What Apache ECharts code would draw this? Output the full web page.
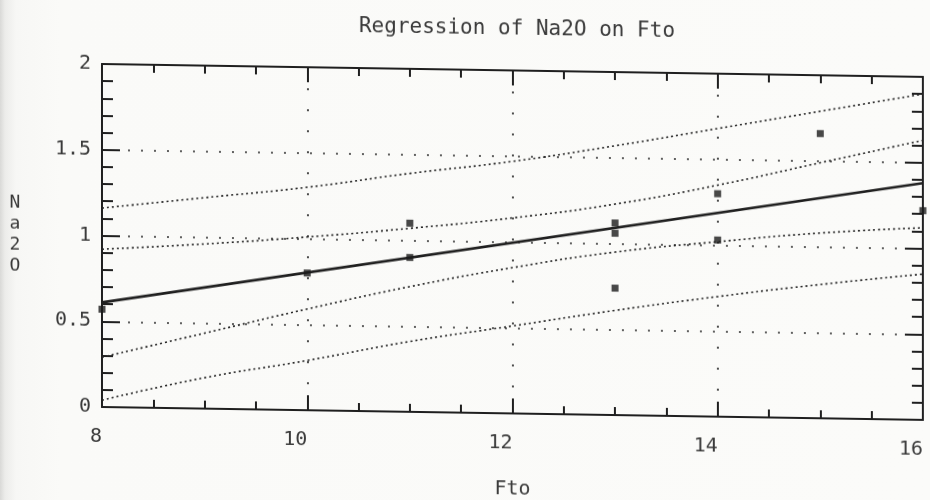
<!DOCTYPE html>
<html>
<head>
<meta charset="utf-8">
<script src="https://cdn.jsdelivr.net/npm/echarts@6/dist/echarts.min.js"></script>
<style>
  html, body {
    margin: 0;
    padding: 0;
    width: 930px;
    height: 500px;
    overflow: hidden;
    background: linear-gradient(to right, #d9d9d7 0px, #ececea 5px, #f7f7f5 16px, #fafaf8 60px, #fbfbf9 100%);
  }
  /* the printout runs slightly downhill to the right */
  #chart {
    width: 930px;
    height: 500px;
    transform: skewY(0.9deg);
    transform-origin: 102px 0;
  }
</style>
</head>
<body>
<div id="chart"></div>
<script>
// Observations: Fto (x) against Na2O (y)
const fto  = [8, 10, 11, 11, 13, 13, 13, 14, 14, 15, 16];
const na2o = [0.57, 0.80, 1.10, 0.90, 1.12, 1.06, 0.74, 1.30, 1.03, 1.66, 1.22];

// Fitted regression line (end points)
const fitX = [8, 16];
const fitY = [0.61, 1.38];

// 95% bands, read at each whole Fto value
const bandX      = [8, 9, 10, 11, 12, 13, 14, 15, 16];
const confUpper  = [0.92, 0.96, 1.01, 1.07, 1.14, 1.23, 1.35, 1.49, 1.63];
const confLower  = [0.29, 0.44, 0.59, 0.73, 0.85, 0.95, 1.02, 1.08, 1.12];
const predUpper  = [1.16, 1.23, 1.30, 1.39, 1.47, 1.57, 1.68, 1.79, 1.90];
const predLower  = [0.04, 0.18, 0.29, 0.41, 0.51, 0.61, 0.70, 0.78, 0.85];

// Axis tick labels
const xTickValues = [8, 10, 12, 14, 16];
const xTickLabels = ['8', '10', '12', '14', '16'];
const yTickValues = [0, 0.5, 1, 1.5, 2];
const yTickLabels = ['0', '0.5', '1', '1.5', '2'];

const ink = '#1f1f1f';
const textInk = '#3a3a3a';
const mono = '"DejaVu Sans Mono", "Liberation Mono", monospace';

const pairs = (xs, ys) => xs.map((x, i) => [x, ys[i]]);
const lookup = (vals, labels) => v => {
  const i = vals.findIndex(t => Math.abs(t - v) < 1e-9);
  return i >= 0 ? labels[i] : '';
};

const tickLine = { color: ink, width: 2 };

const chart = echarts.init(document.getElementById('chart'), null, { renderer: 'canvas' });

const bandLine = {
  type: 'line',
  smooth: true,
  showSymbol: false,
  silent: true,
  lineStyle: { color: '#262626', width: 1.6, type: [2, 3] },
  z: 2
};

chart.setOption({
  animation: false,
  backgroundColor: 'transparent',
  title: {
    text: 'Regression of Na2O on Fto',
    left: 512,
    textAlign: 'center',
    top: 7,
    textStyle: { fontFamily: mono, fontSize: 21, fontWeight: 'normal', color: textInk }
  },
  grid: { left: 102, right: 7, top: 64, bottom: 93, containLabel: false },
  xAxis: [
    {
      type: 'value', position: 'bottom', min: 8, max: 16, interval: 2,
      name: 'Fto', nameLocation: 'middle', nameGap: 66,
      nameTextStyle: { fontFamily: mono, fontSize: 20, color: textInk },
      axisLine: { show: true, onZero: false, lineStyle: tickLine },
      axisTick: { show: true, inside: true, length: 15, lineStyle: tickLine },
      minorTick: { show: true, splitNumber: 4, length: 8, lineStyle: tickLine },
      axisLabel: {
        fontFamily: mono, fontSize: 20, color: textInk, margin: 20, align: 'right',
        formatter: lookup(xTickValues, xTickLabels)
      },
      splitLine: { show: true, lineStyle: { color: '#2e2e2e', width: 1.7, type: [2, 19] } }
    },
    {
      type: 'value', position: 'top', min: 8, max: 16, interval: 2,
      axisLine: { show: true, onZero: false, lineStyle: tickLine },
      axisTick: { show: true, inside: true, length: 15, lineStyle: tickLine },
      minorTick: { show: true, splitNumber: 4, length: 8, lineStyle: tickLine },
      axisLabel: { show: false },
      splitLine: { show: false }
    }
  ],
  yAxis: [
    {
      type: 'value', position: 'left', min: 0, max: 2, interval: 0.5,
      name: 'N\na\n2\nO', nameLocation: 'middle', nameRotate: 0, nameGap: 87,
      nameTextStyle: {
        fontFamily: mono, fontSize: 18, lineHeight: 21, color: textInk,
        align: 'center', verticalAlign: 'middle'
      },
      axisLine: { show: true, onZero: false, lineStyle: tickLine },
      axisTick: { show: true, inside: true, length: 18, lineStyle: tickLine },
      minorTick: { show: true, splitNumber: 5, length: 11, lineStyle: tickLine },
      axisLabel: {
        fontFamily: mono, fontSize: 20, color: textInk, margin: 11,
        formatter: lookup(yTickValues, yTickLabels)
      },
      splitLine: { show: true, lineStyle: { color: '#2e2e2e', width: 1.7, type: [2, 11] } }
    },
    {
      type: 'value', position: 'right', min: 0, max: 2, interval: 0.5,
      axisLine: { show: true, onZero: false, lineStyle: tickLine },
      axisTick: { show: true, inside: true, length: 18, lineStyle: tickLine },
      minorTick: { show: true, splitNumber: 5, length: 11, lineStyle: tickLine },
      axisLabel: { show: false },
      splitLine: { show: false }
    }
  ],
  series: [
    Object.assign({ name: 'prediction upper', data: pairs(bandX, predUpper) }, bandLine),
    Object.assign({ name: 'confidence upper', data: pairs(bandX, confUpper) }, bandLine),
    Object.assign({ name: 'confidence lower', data: pairs(bandX, confLower) }, bandLine),
    Object.assign({ name: 'prediction lower', data: pairs(bandX, predLower) }, bandLine),
    {
      name: 'fit', type: 'line', showSymbol: false, silent: true,
      data: pairs(fitX, fitY),
      lineStyle: { color: ink, width: 2.6 },
      z: 3
    },
    {
      name: 'Na2O', type: 'scatter', symbol: 'rect', symbolSize: 7,
      data: pairs(fto, na2o),
      itemStyle: { color: '#1a1a1a' },
      clip: false,
      z: 5
    }
  ]
});
</script>
</body>
</html>
